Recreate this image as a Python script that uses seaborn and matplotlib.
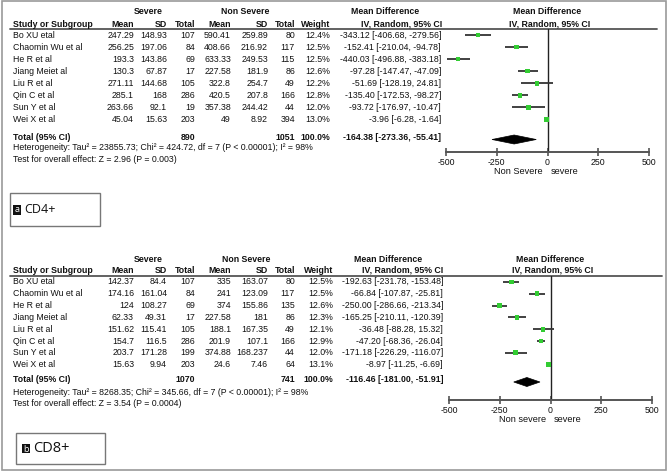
import matplotlib
matplotlib.use("Agg")
import matplotlib.pyplot as plt
import seaborn as sns
import pandas as pd
from matplotlib.patches import Rectangle, Polygon

# ---------------- data ----------------
studies = ["Bo XU etal", "Chaomin Wu et al", "He R et al", "Jiang Meiet al",
           "Liu R et al", "Qin C et al", "Sun Y et al", "Wei X et al"]

# CD4+
cd4_sev_mean = [247.29, 256.25, 193.3, 130.3, 271.11, 285.1, 263.66, 45.04]
cd4_sev_sd = [148.93, 197.06, 143.86, 67.87, 144.68, 168, 92.1, 15.63]
cd4_sev_n = [107, 84, 69, 17, 105, 286, 19, 203]
cd4_ns_mean = [590.41, 408.66, 633.33, 227.58, 322.8, 420.5, 357.38, 49]
cd4_ns_sd = [259.89, 216.92, 249.53, 181.9, 254.7, 207.8, 244.42, 8.92]
cd4_ns_n = [80, 117, 115, 86, 49, 166, 44, 394]
cd4_weight = [12.4, 12.5, 12.5, 12.6, 12.2, 12.8, 12.0, 13.0]
cd4_md = [-343.12, -152.41, -440.03, -97.28, -51.69, -135.40, -93.72, -3.96]
cd4_lo = [-406.68, -210.04, -496.88, -147.47, -128.19, -172.53, -176.97, -6.28]
cd4_hi = [-279.56, -94.78, -383.18, -47.09, 24.81, -98.27, -10.47, -1.64]
cd4_total_n = [890, 1051]
cd4_total_md = [-164.38, -273.36, -55.41]
cd4_het = "Heterogeneity: Tau² = 23855.73; Chi² = 424.72, df = 7 (P < 0.00001); I² = 98%"
cd4_test = "Test for overall effect: Z = 2.96 (P = 0.003)"
cd4_favours = ["Non Severe", "severe"]

# CD8+
cd8_sev_mean = [142.37, 174.16, 124, 62.33, 151.62, 154.7, 203.7, 15.63]
cd8_sev_sd = [84.4, 161.04, 108.27, 49.31, 115.41, 116.5, 171.28, 9.94]
cd8_sev_n = [107, 84, 69, 17, 105, 286, 199, 203]
cd8_ns_mean = [335, 241, 374, 227.58, 188.1, 201.9, 374.88, 24.6]
cd8_ns_sd = [163.07, 123.09, 155.86, 181, 167.35, 107.1, 168.237, 7.46]
cd8_ns_n = [80, 117, 135, 86, 49, 166, 44, 64]
cd8_weight = [12.5, 12.5, 12.6, 12.3, 12.1, 12.9, 12.0, 13.1]
cd8_md = [-192.63, -66.84, -250.00, -165.25, -36.48, -47.20, -171.18, -8.97]
cd8_lo = [-231.78, -107.87, -286.66, -210.11, -88.28, -68.36, -226.29, -11.25]
cd8_hi = [-153.48, -25.81, -213.34, -120.39, 15.32, -26.04, -116.07, -6.69]
cd8_total_n = [1070, 741]
cd8_total_md = [-116.46, -181.00, -51.91]
cd8_het = "Heterogeneity: Tau² = 8268.35; Chi² = 345.66, df = 7 (P < 0.00001); I² = 98%"
cd8_test = "Test for overall effect: Z = 3.54 (P = 0.0004)"
cd8_favours = ["Non severe", "severe"]

x_ticks = [-500, -250, 0, 250, 500]
panel_letters = ["a", "b"]
panel_names = ["CD4+", "CD8+"]

# ---------------- style ----------------
sns.set_theme(style="white")
plt.rcParams['font.family'] = ['Liberation Sans', 'DejaVu Sans']

W, H = 668, 474
fig = plt.figure(figsize=(W / 100, H / 100), dpi=100)
bg = fig.add_axes([0, 0, 1, 1])
bg.set_xlim(0, W)
bg.set_ylim(H, 0)
bg.axis("off")

FS = 6.3
TXT = "#111111"
GREEN = "#33cc33"

# outer frame
bg.add_patch(Rectangle((1.5, 0.8), 664.5, 469.5, fill=False, ec="#9a9a9a", lw=1.2))


def fmt(v):
    return f"{v:g}"


def draw_panel(L, sev_mean, sev_sd, sev_n, ns_mean, ns_sd, ns_n, weight,
               md, lo, hi, total_n, total_md, het, test, favours, letter, name):
    # headers
    bg.text(148, L["h1"], "Severe", ha="center", va="center", fontsize=FS, weight="bold", color=TXT)
    bg.text(L["ns_c"], L["h1"], "Non Severe", ha="center", va="center", fontsize=FS, weight="bold", color=TXT)
    bg.text(L["md_c1"], L["h1"], "Mean Difference", ha="center", va="center", fontsize=FS, weight="bold", color=TXT)
    bg.text(L["md_c2"], L["h2"], "IV, Random, 95% CI", ha="center", va="center", fontsize=FS, weight="bold", color=TXT)
    bg.text(L["px0"], L["h1"], "Mean Difference", ha="center", va="center", fontsize=FS, weight="bold", color=TXT)
    bg.text(L["px0"] + 2, L["h2"], "IV, Random, 95% CI", ha="center", va="center", fontsize=FS, weight="bold", color=TXT)
    bg.text(13, L["h2"], "Study or Subgroup", ha="left", va="center", fontsize=FS, weight="bold", color=TXT)
    cols = L["cols"]
    for x, lab in zip(cols, ["Mean", "SD", "Total", "Mean", "SD", "Total", "Weight"]):
        bg.text(x, L["h2"], lab, ha="right", va="center", fontsize=FS, weight="bold", color=TXT)
    bg.plot([10, L["line_end"]], [L["hline"], L["hline"]], color="#555555", lw=1.3)

    # rows
    ys = [L["row0"] + i * L["step"] for i in range(len(studies))]
    for i, y in enumerate(ys):
        bg.text(13, y, studies[i], ha="left", va="center", fontsize=FS, color=TXT)
        vals = [fmt(sev_mean[i]), fmt(sev_sd[i]), str(sev_n[i]), fmt(ns_mean[i]),
                fmt(ns_sd[i]), str(ns_n[i]), f"{weight[i]:.1f}%"]
        for x, v in zip(cols, vals):
            bg.text(x, y, v, ha="right", va="center", fontsize=FS, color=TXT)
        bg.text(L["ci_r"], y, f"{md[i]:.2f} [{lo[i]:.2f}, {hi[i]:.2f}]",
                ha="right", va="center", fontsize=FS, color=TXT)

    ty = L["total"]
    bg.text(13, ty, "Total (95% CI)", ha="left", va="center", fontsize=FS, weight="bold", color=TXT)
    bg.text(cols[2], ty, str(total_n[0]), ha="right", va="center", fontsize=FS, weight="bold", color=TXT)
    bg.text(cols[5], ty, str(total_n[1]), ha="right", va="center", fontsize=FS, weight="bold", color=TXT)
    bg.text(cols[6], ty, "100.0%", ha="right", va="center", fontsize=FS, weight="bold", color=TXT)
    bg.text(L["ci_r"], ty, f"{total_md[0]:.2f} [{total_md[1]:.2f}, {total_md[2]:.2f}]",
            ha="right", va="center", fontsize=FS, weight="bold", color=TXT)
    bg.text(13, L["het"], het, ha="left", va="center", fontsize=FS, color=TXT)
    bg.text(13, L["test"], test, ha="left", va="center", fontsize=FS, color=TXT)

    # label box
    bx0, by0, bx1, by1 = L["box"]
    bg.add_patch(Rectangle((bx0, by0), bx1 - bx0, by1 - by0, fill=False, ec="#777777", lw=1.0))
    cy = (by0 + by1) / 2
    sq = L["sq"]
    bg.add_patch(Rectangle((bx0 + L["sq_dx"], cy - sq[1] / 2), sq[0], sq[1], fc="#111111", ec="none"))
    bg.text(bx0 + L["sq_dx"] + sq[0] / 2, cy + 0.5, letter, ha="center", va="center", fontsize=L["lfs"],
            color="white", family=["Open Sans", "DejaVu Sans"])
    bg.text(bx0 + L["name_dx"], cy, name, ha="left", va="center", fontsize=L["nfs"], color=TXT,
            family=["Open Sans", "DejaVu Sans"])

    # forest axes
    xl, xr = L["pxm"], L["pxp"]
    top, bot = L["hline"], L["axis"]
    ax = fig.add_axes([xl / W, 1 - bot / H, (xr - xl) / W, (bot - top) / H])
    ax.set_xlim(-500, 500)
    ax.set_ylim(bot, top)
    ax.set_facecolor("none")
    for s in ["top", "left", "right"]:
        ax.spines[s].set_visible(False)
    ax.spines["bottom"].set_color("#555555")
    ax.spines["bottom"].set_linewidth(1.4)
    ax.axvline(0, color="#222222", lw=1.0, zorder=1)
    ax.hlines(ys, lo, hi, color="#333333", lw=1.3, zorder=2)
    df = pd.DataFrame({"md": md, "y": ys, "w": weight})
    sns.scatterplot(data=df, x="md", y="y", marker="s", s=11, color=GREEN,
                    edgecolor="none", ax=ax, zorder=3, legend=False, clip_on=False)
    dy = 4.5
    yd = ty + L["dd"]
    ax.add_patch(Polygon([(total_md[1], yd), (total_md[0], yd - dy),
                          (total_md[2], yd), (total_md[0], yd + dy)],
                         closed=True, fc="black", ec="black", lw=0.5, zorder=3))
    ax.set_xticks(x_ticks)
    ax.set_xticklabels([str(t) for t in x_ticks], fontsize=FS, color=TXT)
    ax.tick_params(axis="x", direction="inout", length=6, width=1.2, color="#555555", pad=1, bottom=True)
    ax.set_yticks([])
    ax.set_xlabel("")
    ax.set_ylabel("")
    x0 = L["px0"]
    bg.text(x0 - 4.5, L["fav"], favours[0], ha="right", va="center", fontsize=FS + 0.3, color=TXT)
    bg.text(x0 + 3, L["fav"], favours[1], ha="left", va="center", fontsize=FS + 0.3, color=TXT)


LA = dict(h1=11, h2=24, hline=28.5, row0=35, step=12.05, total=137.5, dd=2, het=147.5, test=159.5,
          axis=152, fav=172, ns_c=245, md_c1=385, md_c2=402, px0=547.5, pxm=446, pxp=649,
          cols=[134, 167, 195, 231, 268, 295, 330], ci_r=441, line_end=657,
          box=(10, 193, 100, 226), lfs=6.5, nfs=9, sq=(8, 10), sq_dx=3, name_dx=14)
LB = dict(h1=259, h2=270.5, hline=276, row0=282, step=11.8, total=380, dd=2, het=392.5, test=404,
          axis=400, fav=420, ns_c=246, md_c1=388, md_c2=403, px0=550.5, pxm=449, pxp=652,
          cols=[134, 167, 195, 231, 268, 295, 333], ci_r=443, line_end=662,
          box=(16, 433, 105, 464), lfs=6.5, nfs=10.5, sq=(8, 8.5), sq_dx=5.5, name_dx=17)

draw_panel(LA, cd4_sev_mean, cd4_sev_sd, cd4_sev_n, cd4_ns_mean, cd4_ns_sd, cd4_ns_n, cd4_weight,
           cd4_md, cd4_lo, cd4_hi, cd4_total_n, cd4_total_md, cd4_het, cd4_test, cd4_favours,
           panel_letters[0], panel_names[0])
draw_panel(LB, cd8_sev_mean, cd8_sev_sd, cd8_sev_n, cd8_ns_mean, cd8_ns_sd, cd8_ns_n, cd8_weight,
           cd8_md, cd8_lo, cd8_hi, cd8_total_n, cd8_total_md, cd8_het, cd8_test, cd8_favours,
           panel_letters[1], panel_names[1])

fig.savefig("out.png", dpi=100, facecolor="white")
